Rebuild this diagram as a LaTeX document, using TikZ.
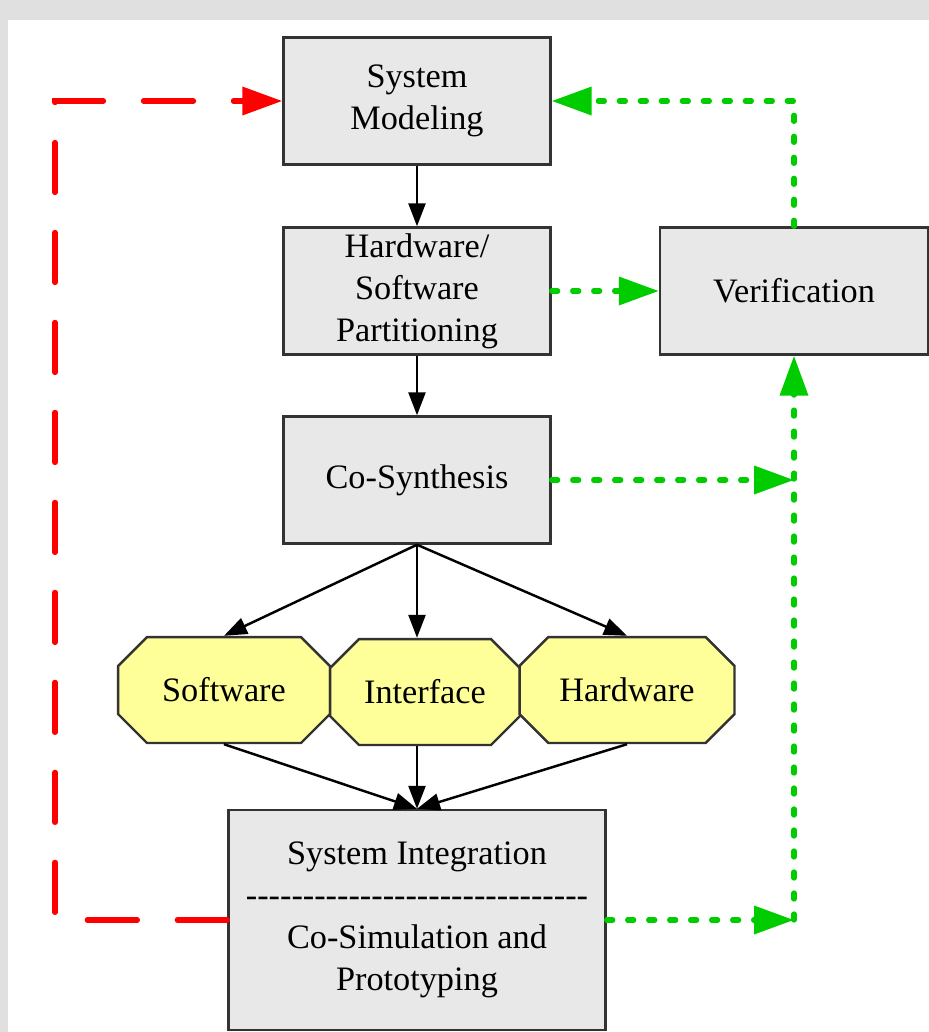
\documentclass[tikz,border=0pt]{standalone}
\usepackage{fontspec}
\setmainfont{Liberation Serif}
\usetikzlibrary{arrows.meta,shapes.misc}

\definecolor{boxgray}{RGB}{232,232,232}
\definecolor{octyellow}{RGB}{255,255,153}
\definecolor{loopgreen}{RGB}{0,204,0}
\definecolor{edgegray}{RGB}{51,51,51}
\newcommand\dashrow{\foreach\k in {1,...,30}{-}}

\begin{document}
\begin{tikzpicture}[x=0.02cm,y=-0.02cm,
  stage/.style={draw=edgegray,line width=1.4pt,fill=boxgray,minimum width=5.34cm,minimum height=2.54cm,inner sep=2pt,align=center,font=\fontsize{19.5}{23.8}\selectfont},
  block/.style={draw=edgegray,line width=1.4pt,fill=octyellow,chamfered rectangle,chamfered rectangle xsep=0.64cm,chamfered rectangle ysep=0.3cm,minimum height=2.12cm,inner sep=1pt,font=\fontsize{19.5}{23.8}\selectfont},
  flow/.style={black,line width=1.4pt,-{Triangle[length=0.46cm,width=0.34cm]}},
  back/.style={red,line width=3pt,line cap=round,dash pattern=on 1.0cm off 0.8cm,-{Triangle[length=0.8cm,width=0.55cm]}},
  check/.style={loopgreen,line width=3pt,line cap=round,dash pattern=on 0.12cm off 0.3cm,-{Triangle[length=0.8cm,width=0.55cm]}}]
  \useasboundingbox (0,0) rectangle (929,1032);
  \fill[black!12] (0,0) rectangle (929,1032);
  \fill[white] (8,20) rectangle (929,1032);

  % design stages
  \node[stage] (model) at (417,101) {System\\Modeling};
  \node[stage] (part) at (417,291) {Hardware/\\Software\\Partitioning};
  \node[stage] (synth) at (417,480) {Co-Synthesis};
  \node[stage,minimum width=5.36cm] (verif) at (794,291) {Verification};

  \node[block,minimum width=4.24cm] (sw) at (224,690) {Software};
  \node[block,minimum width=3.8cm] (if) at (425,692) {Interface};
  \node[block,minimum width=4.3cm] (hw) at (627,690) {Hardware};

  \node[stage,minimum width=7.54cm,minimum height=4.4cm] (integ) at (417,920) {System Integration\\\dashrow\\Co-Simulation and\\Prototyping};

  % main flow
  \draw[flow] (model) -- (part);
  \draw[flow] (part) -- (synth);
  \draw[flow] (synth.south) -- (sw.north);
  \draw[flow] (synth.south) -- (synth.south |- if.north);
  \draw[flow] (synth.south) -- (hw.north);
  \draw[flow] (sw.south) -- (integ.north);
  \draw[flow] (integ.north |- if.south) -- (integ.north);
  \draw[flow] (hw.south) -- (integ.north);

  % feedback loops
  \coordinate (redleft) at (55,101);
  \draw[back] (integ.west) -| (redleft) -- (model.west);

  \coordinate (joinmid) at (verif.south |- synth.east);
  \coordinate (joinlow) at (verif.south |- integ.east);
  \draw[check] (verif.north) |- (model.east);
  \draw[check] (part.east) -- (verif.west);
  \draw[check] (synth.east) -- (joinmid);
  \draw[check] (integ.east) -- (joinlow);
  \draw[check] (joinlow) -- (verif.south);
\end{tikzpicture}
\end{document}
